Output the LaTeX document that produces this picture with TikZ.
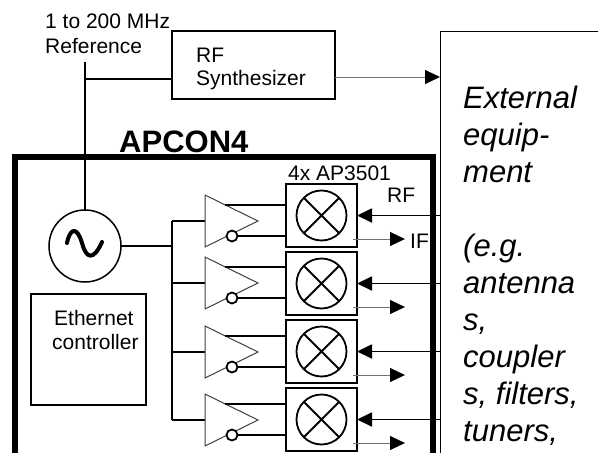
\documentclass[tikz,border=0pt]{standalone}
\usepackage{fontspec}
\setmainfont{Liberation Sans}
\usetikzlibrary{arrows.meta}
\begin{document}
\begin{tikzpicture}[x=1pt,y=-1pt,
  small/.style={inner sep=0pt, anchor=base west, font=\fontsize{21}{25}\selectfont},
  box/.style={draw, line width=2pt, inner sep=0pt, outer sep=0pt},
  wire/.style={line width=1.8pt},
  thinline/.style={line width=1pt, draw=black!55},
  tipend/.style={-{Triangle[length=15pt,width=14pt,color=black]}},
  ampshape/.style={line width=1pt, draw=black!75},
  ring/.style={draw, circle, inner sep=0pt, outer sep=0pt}]
\useasboundingbox (0,0) rectangle (598,453);
% external equipment box
\node[draw, line width=1pt, inner sep=0pt, outer sep=0pt, minimum width=200pt, minimum height=500pt, anchor=north west] (ext) at (440,31) {};
\node[inner sep=0pt, anchor=north west, align=left, font=\fontsize{31}{37}\selectfont\itshape] (extlbl) at (463,86)
  {External\\equip-\\ment\\[37pt](e.g.\\antenna\\s,\\coupler\\s, filters,\\tuners,};
% APCON4 box
\node[draw, line width=6pt, inner sep=0pt, outer sep=0pt, minimum width=418pt, minimum height=400pt, anchor=north west] (apcon) at (15,157) {};
\node[small, font=\fontsize{31}{36}\selectfont\bfseries] (apclbl) at (119,152) {APCON4};
% synthesizer
\node[box, minimum width=163pt, minimum height=68pt, anchor=north west] (synth) at (172,31) {};
\node[small] (synl1) at (196,62) {RF};
\node[small] (synl2) at (196,85) {Synthesizer};
\coordinate (syo) at (335,77);
\draw[thinline, tipend] (syo) -- (syo -| ext.west);
% reference
\node[small] (refl1) at (45,28) {1 to 200 MHz};
\node[small] (refl2) at (45,53) {Reference};
\node[ring, line width=1.5pt, minimum size=72pt] (osc) at (85,246) {};
\coordinate (refin) at (85,62);
\coordinate (refj) at (85,79);
\draw[line width=1.5pt] (refin) -- (osc.north);
\draw[line width=1.5pt] (refj) -- (refj -| synth.west);
\draw[line width=4pt, line cap=round] (67,243) .. controls (70,228) and (77,226) .. (82,243) .. controls (86,258) and (93,262) .. (102,242);
% ethernet
\node[box, minimum width=115pt, minimum height=111pt, anchor=north west] (eth) at (31,294) {};
\node[small] (ethl1) at (54,325) {Ethernet};
\node[small] (ethl2) at (52,349) {controller};
% bus
\coordinate (busin) at (172,246);
\draw[wire] (osc.east) -- (busin);
\coordinate (bustop) at (172,221);
\coordinate (busbot) at (172,420);
\draw[wire] (bustop) -- (busbot);
% mixers
\node[small] (aplbl) at (288,180) {4x AP3501};
\node[small] (rflbl) at (387,202) {RF};
\node[small] (iflbl) at (410,248) {IF};
\foreach \i/\t/\c in {1/184/221, 2/252/283, 3/320/352, 4/388/420}{
  \node[box, minimum width=71pt, minimum height=63pt, anchor=north west] (mix\i) at (286,\t) {};
  \node[ring, line width=1.8pt, minimum size=50pt] (mc\i) at (mix\i.center) {};
  \draw[line width=1.8pt] (mc\i.north west) -- (mc\i.south east);
  \draw[line width=1.8pt] (mc\i.north east) -- (mc\i.south west);
  \draw[wire, tipend] (ext.west |- mix\i.center) -- (mix\i.east);
  \coordinate (ifs\i) at (353,{\t+55});
  \coordinate (ift\i) at (405,{\t+55});
  \draw[thinline, tipend] (ifs\i) -- (ift\i);
  \coordinate (bus\i) at (172,\c);
  \coordinate (ain\i) at (205,\c);
  \draw[wire] (bus\i) -- (ain\i);
  \draw[ampshape] (205,{\c-26}) -- (258,\c) -- (205,{\c+26}) -- cycle;
  \coordinate (aup\i) at (225,{\c-16});
  \draw[wire] (aup\i) -- (aup\i -| mix\i.west);
  \node[ring, line width=1.8pt, minimum size=11pt, fill=white] (bub\i) at (232,{\c+15}) {};
  \draw[wire] (bub\i.east) -- (bub\i.east -| mix\i.west);
}
\end{tikzpicture}
\end{document}
